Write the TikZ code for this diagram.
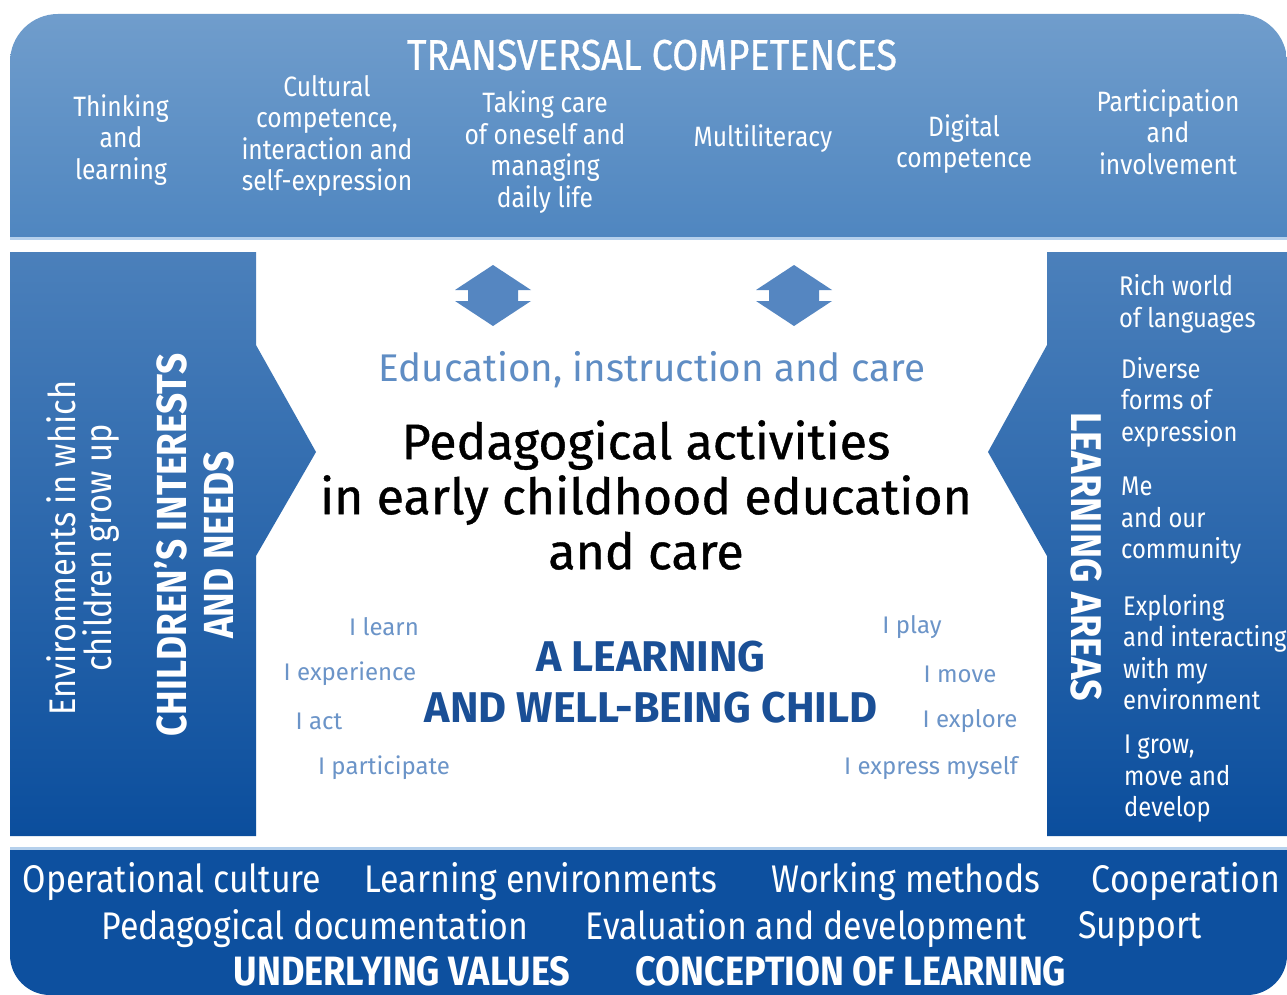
\documentclass[tikz,border=0pt]{standalone}
\usepackage{fontspec}
\setmainfont{Fira Sans}
\newfontfamily\din[FakeStretch=0.88]{Fira Sans}
\newfontfamily\dinm[FakeStretch=0.88,FakeBold=0.6]{Fira Sans}
\newfontfamily\firam[FakeBold=0.8]{Fira Sans}
\definecolor{topA}{HTML}{709DCC}
\definecolor{topB}{HTML}{4F86C0}
\definecolor{panA}{HTML}{4B80BB}
\definecolor{panB}{HTML}{0B4E9D}
\definecolor{botblue}{HTML}{0D509F}
\definecolor{arrowblue}{HTML}{5586C1}
\definecolor{edu}{HTML}{5F8DC4}
\definecolor{small}{HTML}{6B94C8}
\definecolor{child}{HTML}{1A4F96}
\definecolor{edge}{HTML}{B5D0EC}
\tikzset{
  wt/.style={text=white, align=center, inner sep=0pt, font=\din\fontsize{28}{31.5}\selectfont},
  rl/.style={text=white, align=left, anchor=west, inner sep=0pt, font=\din\fontsize{27}{31.5}\selectfont},
  bt/.style={text=white, inner sep=0pt, font=\din\fontsize{38.5}{40}\selectfont},
  btb/.style={text=white, inner sep=0pt, font=\din\bfseries\fontsize{41}{44}\selectfont},
  sm/.style={text=small, inner sep=0pt, font=\fontsize{24}{28}\selectfont},
  dblarrow/.pic={\fill[arrowblue] (0,-31)--(38,-6)--(25,-6)--(25,5)--(38,5)--(0,30)--(-38,5)--(-25,5)--(-25,-6)--(-38,-6)--cycle;}
}
\begin{document}
\begin{tikzpicture}[x=1pt,y=-1pt]
\useasboundingbox (0,0) rectangle (1287,995);
\fill[white] (0,0) rectangle (1287,995);
% top band
\shade[top color=topA, bottom color=topB] (10,238) [rounded corners=48pt] -- (10,14) -- (1287,14) [sharp corners] -- (1287,238) -- cycle;
\fill[edge] (10,237) rectangle (1287,240);
% bottom band
\fill[edge] (10,847) rectangle (1287,850);
\fill[botblue] (10,850) -- (1287,850) [rounded corners=40pt] -- (1287,995) -- (10,995) [sharp corners] -- cycle;
% left panel
\shade[top color=panA, bottom color=panB] (10,252) -- (256,252) -- (256,345) -- (316,452) -- (256,556) -- (256,836) -- (10,836) -- cycle;
% right panel
\shade[top color=panA, bottom color=panB] (1287,252) -- (1047,252) -- (1047,345) -- (988,452) -- (1047,556) -- (1047,836) -- (1287,836) -- cycle;
% arrows
\pic at (493,296) {dblarrow};
\pic at (794,296) {dblarrow};
% top texts
\node[text=white, inner sep=0pt, font=\dinm\fontsize{43}{46}\selectfont] (tc) at (652,55) {TRANSVERSAL COMPETENCES};
\node[wt] (t1) at (121,140) {Thinking\\and\\learning};
\node[wt] (t2) at (327,136) {Cultural\\competence,\\interaction and\\self-expression};
\node[wt] (t3) at (545,152) {Taking care\\of oneself and\\managing\\daily life};
\node[wt] (t4) at (763,139) {Multiliteracy};
\node[wt] (t5) at (964,144) {Digital\\competence};
\node[wt] (t6) at (1168,132) {Participation\\and\\involvement};
% left panel texts
\node[text=white, align=center, inner sep=0pt, rotate=90, font=\din\fontsize{37}{36}\selectfont] (env) at (83,548) {Environments in which\\children grow up};
\node[text=white, align=center, inner sep=0pt, rotate=90, font=\din\bfseries\fontsize{42}{47}\selectfont] (cin) at (194,545) {CHILDREN’S INTERESTS\\AND NEEDS};
% right panel texts
\node[text=white, inner sep=0pt, rotate=-90, font=\din\bfseries\fontsize{43}{46}\selectfont] (la) at (1086,557) {LEARNING AREAS};
\node[rl] (r1) at (1119,304) {Rich world\\of languages};
\node[rl] (r2) at (1121,402) {Diverse\\forms of\\expression};
\node[rl] (r3) at (1121,521) {Me\\and our\\community};
\node[rl] (r4) at (1123,652) {Exploring\\and interacting\\with my\\environment};
\node[rl] (r5) at (1124,779) {I grow,\\move and\\develop};
% center texts
\node[text=edu, inner sep=0pt, font=\fontsize{38.6}{42}\selectfont] (edu) at (652,370) {Education, instruction and care};
\node[text=black, align=center, inner sep=0pt, font=\firam\fontsize{50}{55}\selectfont] (ped) at (646,495) {Pedagogical activities\\in early childhood education\\and care};
\node[text=child, align=center, inner sep=0pt, font=\bfseries\fontsize{43}{51}\selectfont] (lc) at (651,682) {A LEARNING\\AND WELL-BEING CHILD};
\node[sm] (i1) at (384,627) {I learn};
\node[sm] (i2) at (350,674) {I experience};
\node[sm] (i3) at (319,721) {I act};
\node[sm] (i4) at (384,768) {I participate};
\node[sm] (i5) at (912,627) {I play};
\node[sm] (i6) at (960,674) {I move};
\node[sm] (i7) at (970,721) {I explore};
\node[sm] (i8) at (931,768) {I express myself};
% bottom texts
\node[bt] (b1) at (172,882) {Operational culture};
\node[bt] (b2) at (541,882) {Learning environments};
\node[bt] (b3) at (906,882) {Working methods};
\node[bt] (b4) at (1186,882) {Cooperation};
\node[bt] (b5) at (315,929) {Pedagogical documentation};
\node[bt] (b6) at (806,929) {Evaluation and development};
\node[bt] (b7) at (1140,929) {Support};
\node[btb] (b8) at (402,971) {UNDERLYING VALUES};
\node[btb] (b9) at (851,971) {CONCEPTION OF LEARNING};
\end{tikzpicture}
\end{document}
